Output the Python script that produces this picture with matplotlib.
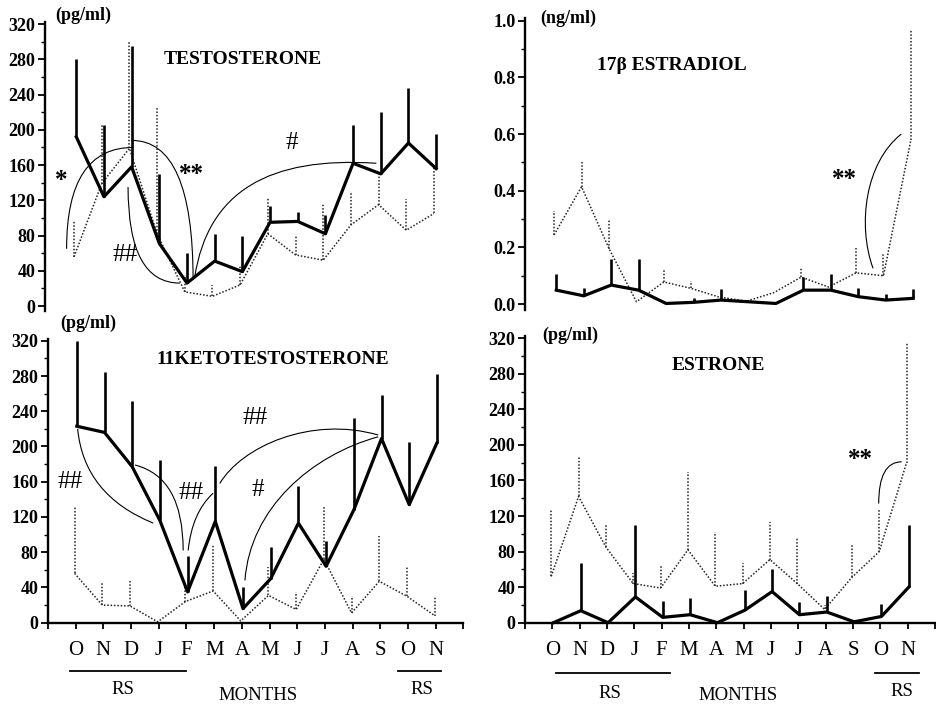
import numpy as np
import matplotlib
matplotlib.use("Agg")
import matplotlib.pyplot as plt
from matplotlib.path import Path
from matplotlib.patches import PathPatch
from matplotlib.ticker import MultipleLocator

plt.rcParams['font.family'] = ['Liberation Serif', 'DejaVu Serif']

months = ['O', 'N', 'D', 'J', 'F', 'M', 'A', 'M', 'J', 'J', 'A', 'S', 'O', 'N']

# testosterone (pg/ml): solid = thick line, dotted = thin line, se = upper bar
testo_solid = [192, 124, 158, 71, 26, 51, 39, 95, 96, 82, 162, 150, 185, 156]
testo_solid_se = [88, 81, 137, 79, 34, 31, 41, 18, 11, 21, 43, 70, 63, 39]
testo_dotted = [56, 139, 179, 82, 16, 11, 24, 82, 58, 52, 92, 115, 86, 105]
testo_dotted_se = [40, 66, 121, 143, 19, 13, 21, 42, 21, 64, 36, 35, 35, 53]

# 17b estradiol (ng/ml)
e2_solid = [0.049, 0.029, 0.067, 0.049, 0.002, 0.006, 0.014, 0.008, 0.002, 0.049, 0.049, 0.026, 0.014, 0.020]
e2_solid_se = [0.056, 0.026, 0.093, 0.111, 0.0, 0.014, 0.039, 0.0, 0.0, 0.046, 0.056, 0.029, 0.020, 0.033]
e2_dotted = [0.244, 0.414, 0.196, 0.008, 0.078, 0.055, 0.025, 0.010, 0.040, 0.095, 0.060, 0.110, 0.100, 0.580]
e2_dotted_se = [0.086, 0.086, 0.104, 0.0, 0.042, 0.025, 0.0, 0.0, 0.0, 0.035, 0.0, 0.090, 0.080, 0.390]

# 11-ketotestosterone (pg/ml)
kt_solid = [223, 216, 177, 116, 35, 115, 16, 50, 113, 64, 128, 209, 134, 204]
kt_solid_se = [97, 69, 75, 69, 41, 63, 25, 36, 42, 29, 104, 49, 71, 78]
kt_dotted = [56, 20, 19, 1, 24, 36, 2, 31, 15, 72, 11, 47, 30, 8]
kt_dotted_se = [77, 25, 28, 0, 16, 52, 0, 32, 20, 61, 19, 51, 33, 22]

# estrone (pg/ml)
e1_solid = [0, 13.5, 0, 29, 6, 9, 0, 14, 35, 9, 12, 1, 7, 40]
e1_solid_se = [0, 54, 0, 81, 18, 19, 0, 23, 25, 14, 18, 0, 14, 70]
e1_dotted = [52, 142, 85, 44, 39, 82, 41, 44, 71, 44, 15, 51, 80, 180]
e1_dotted_se = [76, 45, 25, 12, 26, 88, 61, 23, 42, 52, 5, 36, 47, 135]

W, H = 936, 705
fig = plt.figure(figsize=(W / 100, H / 100), dpi=100)


def box(left, right, top, bottom):
    return [left / W, 1 - bottom / H, (right - left) / W, (bottom - top) / H]


def ftext(x, y, s, **kw):
    fig.text(x / W, 1 - y / H, s, ha='center', va='center', **kw)


def curve(ax, pts):
    codes = [Path.MOVETO] + [Path.CURVE3 if len(pts) == 3 else Path.CURVE4] * (len(pts) - 1)
    ax.add_patch(PathPatch(Path(pts, codes), fill=False, lw=0.8, color='black', clip_on=False))


def draw(ax, solid, solid_se, dotted, dotted_se):
    x = np.arange(len(months))
    solid, solid_se = np.array(solid), np.array(solid_se)
    dotted, dotted_se = np.array(dotted), np.array(dotted_se)
    dots = (0, (1, 1.2))
    ax.plot(x - 0.04, dotted, color='#222222', lw=1.1, ls=dots, clip_on=False)
    ax.vlines(x - 0.04, dotted, dotted + dotted_se, color='#222222', lw=1.1, linestyles=dots)
    ax.plot(x + 0.04, solid, color='black', lw=2.3, clip_on=False)
    ax.vlines(x + 0.04, solid, solid + solid_se, color='black', lw=1.9)


def style(ax, ymax, major, minor, fmt, bottom):
    for s in ['top', 'right']:
        ax.spines[s].set_visible(False)
    ax.spines['left'].set_linewidth(1.7)
    ax.yaxis.set_major_locator(MultipleLocator(major))
    ax.yaxis.set_minor_locator(MultipleLocator(minor))
    ax.set_yticks(np.arange(0, ymax + major / 2, major))
    ax.set_yticklabels([fmt(v) for v in np.arange(0, ymax + major / 2, major)],
                       fontweight='bold', fontsize=13)
    ax.tick_params(axis='y', which='major', direction='out', length=5, width=1.3, pad=2)
    ax.tick_params(axis='y', which='minor', direction='out', length=3, width=1.0)
    if bottom:
        ax.spines['bottom'].set_linewidth(1.7)
        ax.set_xticks(np.arange(-1, 15))
        ax.set_xticklabels([''] + months + [''], fontsize=15)
        ax.tick_params(axis='x', direction='out', length=4, width=1.3, pad=9)
    else:
        ax.spines['bottom'].set_visible(False)
        ax.set_xticks([])


# top left: testosterone
ax1 = fig.add_axes(box(45, 462.7, 22.3, 311.3))
ax1.set_xlim(-1.09, 14)
ax1.set_ylim(-6, 322)
draw(ax1, testo_solid, testo_solid_se, testo_dotted, testo_dotted_se)
style(ax1, 320, 40, 20, lambda v: '%d' % v, False)
curve(ax1, [(-0.31, 65), (-0.31, 180), (2.1, 180)])
curve(ax1, [(1.91, 135), (1.91, 26), (3.78, 26)])
curve(ax1, [(2.04, 188), (4.26, 188), (4.26, 30)])
curve(ax1, [(4.32, 33), (4.8, 130), (7.0, 170), (10.88, 162)])
ax1.text(-0.49, 143, '*', fontsize=18, fontweight='bold', ha='center', va='center')
ax1.text(1.79, 58, '##', fontsize=18, ha='center', va='center')
ax1.text(4.2, 149, '**', fontsize=18, fontweight='bold', ha='center', va='center')
ax1.text(7.81, 185, '#', fontsize=18, ha='center', va='center')

# top right: estradiol
ax2 = fig.add_axes(box(525, 934, 17.9, 309.7))
ax2.set_xlim(-1.1, 13.8)
ax2.set_ylim(-0.02, 1.01)
draw(ax2, e2_solid, e2_solid_se, e2_dotted, e2_dotted_se)
style(ax2, 1.0, 0.2, 0.1, lambda v: '%.1f' % v, False)
curve(ax2, [(11.58, 0.126), (11.0, 0.28), (11.3, 0.5), (12.61, 0.60)])
ax2.text(10.55, 0.438, '**', fontsize=18, fontweight='bold', ha='center', va='center')

# bottom left: 11-ketotestosterone
ax3 = fig.add_axes(box(48, 463.5, 339, 622.7))
ax3.set_xlim(-1, 14)
ax3.set_ylim(0, 322)
draw(ax3, kt_solid, kt_solid_se, kt_dotted, kt_dotted_se)
style(ax3, 320, 40, 20, lambda v: '%d' % v, True)
curve(ax3, [(0.07, 220), (0.3, 145), (2.8, 113)])
curve(ax3, [(2.14, 179), (3.88, 165), (3.88, 82)])
curve(ax3, [(4.06, 82), (4.2, 125), (4.96, 147)])
curve(ax3, [(5.2, 158), (6.0, 200), (8.5, 235), (10.92, 213)])
curve(ax3, [(6.11, 48), (6.3, 130), (8.5, 190), (10.92, 211)])
ax3.text(-0.21, 160, '##', fontsize=18, ha='center', va='center')
ax3.text(4.18, 147, '##', fontsize=18, ha='center', va='center')
ax3.text(6.47, 232, '##', fontsize=18, ha='center', va='center')
ax3.text(6.59, 151, '#', fontsize=18, ha='center', va='center')

# bottom right: estrone
ax4 = fig.add_axes(box(525, 935, 336.4, 622.7))
ax4.set_xlim(-1, 13.8)
ax4.set_ylim(0, 322)
draw(ax4, e1_solid, e1_solid_se, e1_dotted, e1_dotted_se)
style(ax4, 320, 40, 20, lambda v: '%d' % v, True)
curve(ax4, [(11.94, 134), (11.94, 181), (12.78, 181)])
ax4.text(11.27, 183, '**', fontsize=18, fontweight='bold', ha='center', va='center')

# RS bars and axis captions under the bottom panels
for ax, segs, ybar in [(ax3, [(-0.2, 3.99), (11.64, 13.2)], 670.7),
                       (ax4, [(0.14, 4.3), (11.8, 13.4)], 672.7)]:
    x0, y0, w, h = ax.get_position().bounds
    yfrac = ((1 - ybar / H) - y0) / h
    for a, b in segs:
        ax.plot([a, b], [yfrac, yfrac], color='black', lw=1.3,
                transform=ax.get_xaxis_transform(), clip_on=False)

ftext(123, 690, 'RS', fontsize=13.5)
ftext(421.7, 690, 'RS', fontsize=13.5)
ftext(258.3, 695, 'MONTHS', fontsize=13.5)
ftext(610, 693, 'RS', fontsize=13.5)
ftext(901.7, 692, 'RS', fontsize=13.5)
ftext(738.3, 695, 'MONTHS', fontsize=13.5)

# units and titles
ftext(83, 15, '(pg/ml)', fontsize=13, fontweight='bold')
ftext(568, 18, '(ng/ml)', fontsize=13, fontweight='bold')
ftext(88, 323, '(pg/ml)', fontsize=13, fontweight='bold')
ftext(570, 335, '(pg/ml)', fontsize=13, fontweight='bold')
ftext(243, 60, 'TESTOSTERONE', fontsize=14, fontweight='bold')
ftext(672, 65, '17β ESTRADIOL', fontsize=14, fontweight='bold')
ftext(273, 360, '11KETOTESTOSTERONE', fontsize=14, fontweight='bold')
ftext(718, 365, 'ESTRONE', fontsize=14, fontweight='bold')

fig.savefig('out.png', dpi=100)
